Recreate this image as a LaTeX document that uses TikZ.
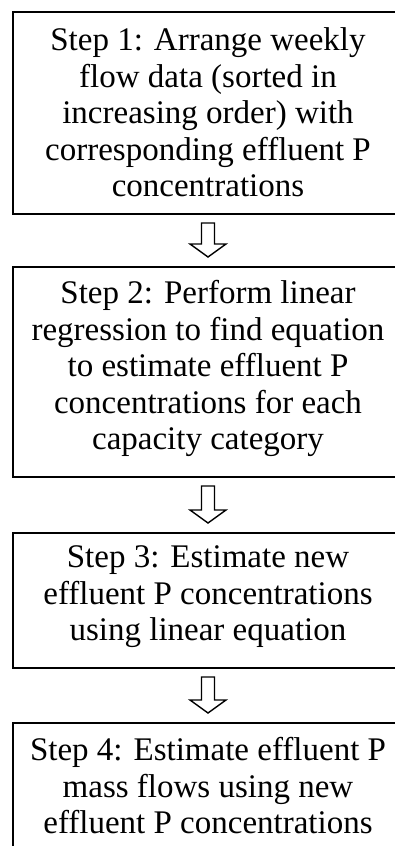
\documentclass[tikz,border=0pt]{standalone}
\usepackage{fontspec}
\setmainfont{Liberation Serif}
\usetikzlibrary{calc}
\begin{document}
\begin{tikzpicture}[x=1pt,y=1pt,
  stepbox/.style={draw, line width=2pt, minimum width=390pt, inner sep=0pt, anchor=north},
  steptext/.style={anchor=north, align=center, inner sep=0pt,
    font=\fontsize{33}{36.5}\selectfont},
  blockarrow/.style={draw, line width=1.4pt, line join=miter, fill=white,
    to path={let \p1=(\tikztostart.south), \p2=(\tikztotarget.north) in
      (\x1-6.5pt,\y1-8pt) -- (\x1+6.5pt,\y1-8pt) -- (\x1+6.5pt,\y2+22pt)
      -- (\x1+18pt,\y2+22pt) -- (\x1,\y2+9pt) -- (\x1-18pt,\y2+22pt)
      -- (\x1-6.5pt,\y2+22pt) -- cycle}}]
\useasboundingbox (0,0) rectangle (395,-846);
\clip (0,0) rectangle (395,-846);

% the four step frames
\node[stepbox, minimum height=202pt] (s1) at (208,-11) {};
\node[stepbox, minimum height=210pt] (s2) at (208,-266) {};
\node[stepbox, minimum height=135pt] (s3) at (208,-532) {};
\node[stepbox, minimum height=140pt] (s4) at (208,-722) {};

% step texts
\node[steptext] (t1) at ($(s1.north)+(0,-16.5)$)
  {Step 1: Arrange weekly\\flow data (sorted in\\increasing order) with\\corresponding effluent P\\concentrations};
\node[steptext] (t2) at ($(s2.north)+(0,-14.5)$)
  {Step 2: Perform linear\\regression to find equation\\to estimate effluent P\\concentrations for each\\capacity category};
\node[steptext] (t3) at ($(s3.north)+(0,-13.8)$)
  {Step 3: Estimate new\\effluent P concentrations\\using linear equation};
\node[steptext] (t4) at ($(s4.north)+(0,-15.5)$)
  {Step 4: Estimate effluent P\\mass flows using new\\effluent P concentrations};

% hollow block arrows between the steps
\draw[blockarrow] (s1) to (s2);
\draw[blockarrow] (s2) to (s3);
\draw[blockarrow] (s3) to (s4);
\end{tikzpicture}
\end{document}
